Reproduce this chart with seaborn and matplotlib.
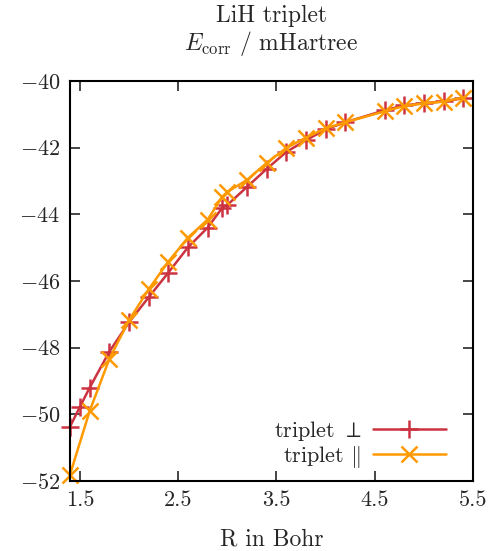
import matplotlib
matplotlib.use("Agg")
import matplotlib.pyplot as plt
import seaborn as sns
import pandas as pd

R_perp = [1.4, 1.5, 1.6, 1.8, 2.0, 2.2, 2.4, 2.6, 2.8, 2.95, 3.0, 3.2, 3.4, 3.6, 3.8, 4.0, 4.2, 4.6, 4.8, 5.0, 5.2, 5.4]
E_perp = [-50.37, -49.78, -49.2, -48.12, -47.24, -46.49, -45.75, -44.99, -44.4, -43.8, -43.72, -43.18, -42.64,
          -42.13, -41.78, -41.45, -41.24, -40.88, -40.73, -40.67, -40.61, -40.52]
R_par = [1.4, 1.6, 1.8, 2.0, 2.2, 2.4, 2.6, 2.8, 2.95, 3.0, 3.2, 3.4, 3.6, 3.8, 4.0, 4.2, 4.6, 4.8, 5.0, 5.2, 5.4]
E_par = [-51.81, -49.9, -48.34, -47.18, -46.25, -45.42, -44.7, -44.16, -43.47, -43.33, -42.97, -42.46,
         -42.01, -41.7, -41.42, -41.24, -40.91, -40.75, -40.67, -40.62, -40.5]
xticks = [1.5, 2.5, 3.5, 4.5, 5.5]
yticks = [-40, -42, -44, -46, -48, -50, -52]

sns.set_style("ticks")
plt.rcParams.update({
    "font.family": "serif",
    "font.serif": ["cmr10", "DejaVu Serif"],
    "mathtext.fontset": "cm",
    "axes.formatter.use_mathtext": True,
    "axes.unicode_minus": True,
    "font.size": 17,
})

fig = plt.figure(figsize=(4.91, 5.51), dpi=100)
ax = fig.add_axes([70/491, 1-481/551, (473-70)/491, (481-81)/551])

red = "#cc3340"
orange = "#ff9900"
df1 = pd.DataFrame({"R": R_perp, "E": E_perp})
df2 = pd.DataFrame({"R": R_par, "E": E_par})
sns.lineplot(data=df1, x="R", y="E", ax=ax, color=red, marker="+", markersize=13, markeredgewidth=1.8,
             markeredgecolor=red, linewidth=1.8, label=r"triplet $\perp$", sort=False, clip_on=False)
sns.lineplot(data=df2, x="R", y="E", ax=ax, color=orange, marker="x", markersize=11, markeredgewidth=1.8,
             markeredgecolor=orange, linewidth=1.8, label=r"triplet $\Vert$", sort=False, clip_on=False)

ax.set_xlim(1.4, 5.5)
ax.set_ylim(-52, -40)
ax.set_xticks(xticks)
ax.set_xticklabels([str(t) for t in xticks])
ax.set_yticks(yticks)
ax.set_yticklabels([r"$-%d$" % abs(t) for t in yticks])
ax.tick_params(direction="in", top=True, right=True, length=7, width=1.2, labelsize=16, pad=7)
for s in ax.spines.values():
    s.set_linewidth(1.5)
    s.set_color("black")
ax.set_xlabel("R in Bohr", fontsize=17, labelpad=13)
ax.set_ylabel("")
ax.set_title("LiH triplet\n" + r"$E_\mathrm{corr}$ / mHartree", fontsize=17, pad=22, linespacing=1.1)

leg = ax.legend(loc="lower right", frameon=False, markerfirst=False, handlelength=3.3, fontsize=16,
                borderaxespad=0.0, labelspacing=0.05, handletextpad=0.5, bbox_to_anchor=(0.955, 0.005))

fig.savefig("out.png", dpi=100)
